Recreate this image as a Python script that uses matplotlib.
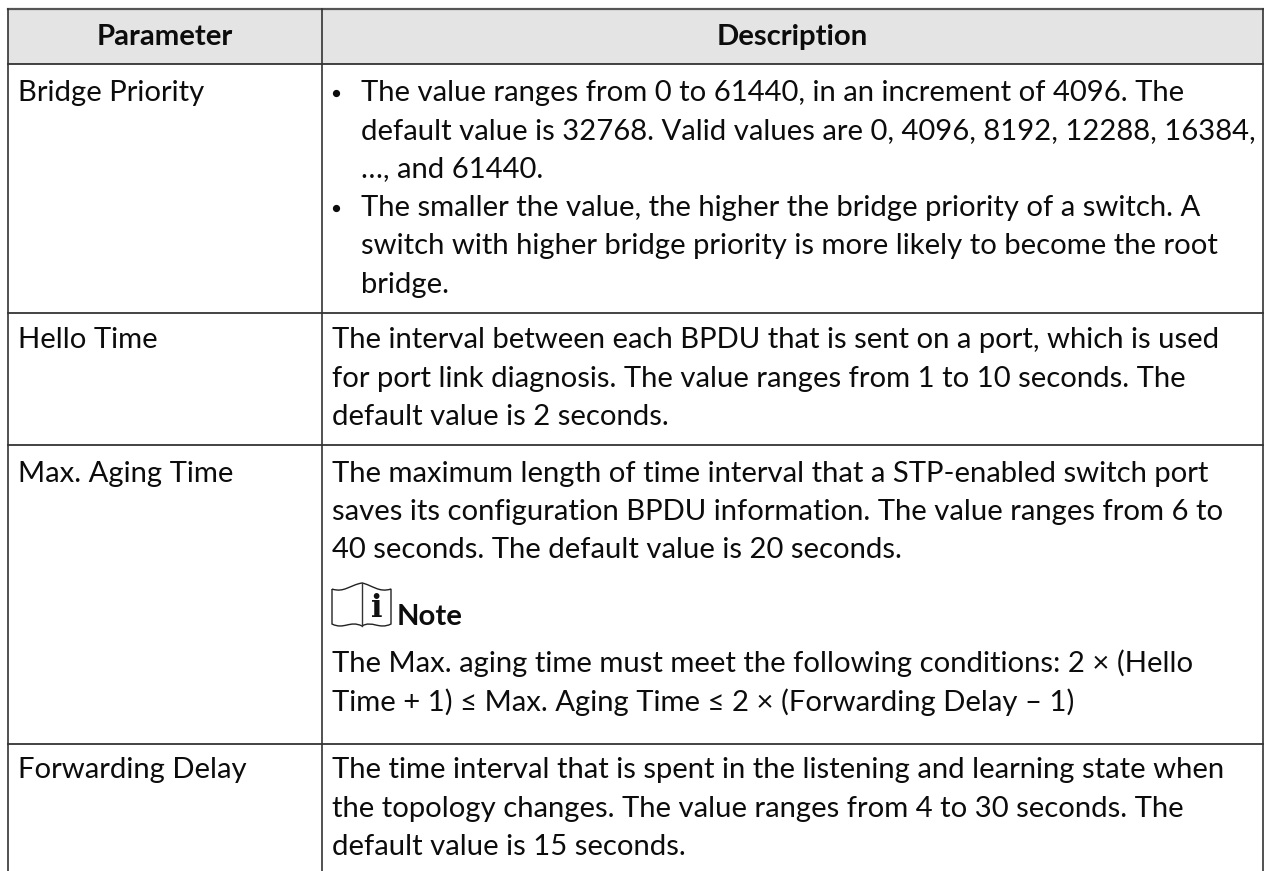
import matplotlib.pyplot as plt
from matplotlib.patches import Rectangle, PathPatch
from matplotlib.path import Path

plt.rcParams['font.family'] = ['Lato', 'DejaVu Sans']

W, H = 1264, 871
FS = 21.1
TEXT = '#0c0c0c'

headers = ["Parameter", "Description"]
params = ["Bridge Priority", "Hello Time", "Max. Aging Time", "Forwarding Delay"]
param_y = [101, 348, 482, 778]

# text lines of the description column: (baseline y, indented, text)
desc_lines = [
    (101, True, "The value ranges from 0 to 61440, in an increment of 4096. The"),
    (139, True, "default value is 32768. Valid values are 0, 4096, 8192, 12288, 16384,"),
    (177, True, "…, and 61440."),
    (216, True, "The smaller the value, the higher the bridge priority of a switch. A"),
    (254, True, "switch with higher bridge priority is more likely to become the root"),
    (293, True, "bridge."),
    (348, False, "The interval between each BPDU that is sent on a port, which is used"),
    (387, False, "for port link diagnosis. The value ranges from 1 to 10 seconds. The"),
    (425, False, "default value is 2 seconds."),
    (482, False, "The maximum length of time interval that a STP-enabled switch port"),
    (520, False, "saves its configuration BPDU information. The value ranges from 6 to"),
    (558, False, "40 seconds. The default value is 20 seconds."),
    (672, False, "The Max. aging time must meet the following conditions: 2 × (Hello"),
    (711, False, "Time + 1) ≤ Max. Aging Time ≤ 2 × (Forwarding Delay – 1)"),
    (778, False, "The time interval that is spent in the listening and learning state when"),
    (817, False, "the topology changes. The value ranges from 4 to 30 seconds. The"),
    (855, False, "default value is 15 seconds."),
]
bullet_y = [93, 208]

x_left, x_mid, x_right = 8, 322, 1263
y_top, y_head = 9, 64
row_lines = [313, 445, 744]


def draw_note_icon(ax, x, y, w, h, spine):
    # open book outline, the pages rise towards the spine
    verts = [(x, y + 6), (x + 12, y + 10), (spine - 12, y + 2), (spine, y),
             (spine + 10, y + 2), (x + w - 12, y + 10), (x + w, y + 6),
             (x + w, y + h - 4),
             (x + w - 12, y + h + 2), (spine + 10, y + h - 8), (spine, y + h - 2),
             (spine - 12, y + h - 8), (x + 12, y + h + 2), (x, y + h - 4),
             (x, y + 6)]
    codes = [Path.MOVETO] + [Path.CURVE4] * 6 + [Path.LINETO] + [Path.CURVE4] * 6 + [Path.LINETO]
    ax.add_patch(PathPatch(Path(verts, codes), fc='white', ec='#222222', lw=1.0))
    ax.plot([spine, spine], [y, y + h - 2], color='#333333', lw=1.0)
    ax.text(spine + 14.5, y + 34, "i", fontsize=22, fontweight='bold', family='DejaVu Serif',
            ha='center', va='baseline', color='#111111')


fig = plt.figure(figsize=(W / 100, H / 100), dpi=100)
ax = fig.add_axes([0, 0, 1, 1])
ax.set_xlim(0, W)
ax.set_ylim(H, 0)
ax.axis('off')

ax.add_patch(Rectangle((x_left, y_top), x_right - x_left, y_head - y_top, fc='#e4e4e4', ec='none'))

ax.plot([x_left, x_right], [y_top, y_top], color='#555555', lw=1.6)
for y in [y_head] + row_lines:
    ax.plot([x_left, x_right], [y, y], color='#222222', lw=1.2)
for x in [x_left, x_mid, x_right]:
    ax.plot([x, x], [y_top, H], color='#333333', lw=1.2)

ax.text(165, 45, headers[0], fontsize=FS, fontweight='bold', ha='center', va='baseline', color=TEXT)
ax.text(792, 45, headers[1], fontsize=FS, fontweight='bold', ha='center', va='baseline', color=TEXT)

for y, name in zip(param_y, params):
    ax.text(18, y, name, fontsize=FS, va='baseline', color=TEXT)

for y, indented, line in desc_lines:
    ax.text(361 if indented else 332, y, line, fontsize=FS, va='baseline', color=TEXT)

for y in bullet_y:
    ax.plot([336], [y], marker='o', ms=4.2, color=TEXT)

draw_note_icon(ax, 332, 583, 59, 45, 362)
ax.text(397, 625, "Note", fontsize=FS, fontweight='bold', va='baseline', color=TEXT)

fig.savefig('out.png', dpi=100)
